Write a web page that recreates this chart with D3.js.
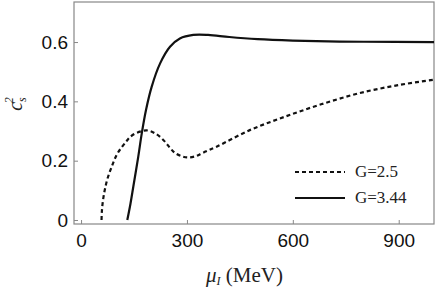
<!DOCTYPE html>
<html>
<head>
<meta charset="utf-8">
<script src="https://cdn.jsdelivr.net/npm/d3@7"></script>
<style>
  body { margin: 0; background: #fff; }
  .tick text { font-family: "Liberation Sans", Arial, sans-serif; font-size: 19px; fill: #111; }
  .legend text { font-family: "Liberation Serif", "Times New Roman", serif; font-size: 17px; fill: #222; }
</style>
</head>
<body>
<script>
//curve data (mu_I in MeV, c_s^2)
var muDashed = [58, 59, 62, 67, 75, 87, 101, 115, 129, 139, 158, 186, 210, 233, 252, 266, 285, 304, 325, 346, 384, 478, 577, 680, 790, 900, 1000];
var csDashed = [0, 0.03, 0.065, 0.1, 0.14, 0.18, 0.22, 0.245, 0.266, 0.28, 0.294, 0.302, 0.292, 0.27, 0.243, 0.226, 0.215, 0.211, 0.215, 0.227, 0.247, 0.303, 0.348, 0.39, 0.428, 0.455, 0.473];
var muSolid = [131, 140, 148, 162, 172, 184, 200, 224, 252, 280, 318, 360, 420, 500, 600, 700, 800, 1000];
var csSolid = [0, 0.055, 0.112, 0.213, 0.292, 0.371, 0.449, 0.528, 0.584, 0.612, 0.624, 0.624, 0.617, 0.61, 0.605, 0.602, 0.601, 0.600];
var xTicks = [0, 300, 600, 900];
var yTicks = [0, 0.2, 0.4, 0.6];
var seriesNames = ["G=2.5", "G=3.44"];

(function(){
    var width = 436, height = 290;
    var left = 74, top = 2, right = 434, bottom = 224;

    var svg = d3.select("body").append("svg")
        .attr("width", width)
        .attr("height", height);

    var x = d3.scaleLinear().domain([-20, 1000]).range([left, right]);
    var y = d3.scaleLinear().domain([-0.0135, 0.735]).range([bottom, top]);

    //axes with inner ticks
    var xAxis = d3.axisBottom(x).tickValues(xTicks).tickSize(-4).tickPadding(10).tickFormat(d3.format("d"));
    var yAxis = d3.axisLeft(y).tickValues(yTicks).tickSize(-4).tickPadding(6)
        .tickFormat(function(d){ return d === 0 ? "0" : d3.format(".1f")(d); });

    svg.append("g").attr("transform", "translate(0," + bottom + ")").call(xAxis)
        .call(function(g){ g.select(".domain").remove(); g.selectAll("line").attr("stroke", "#888"); });
    svg.append("g").attr("transform", "translate(" + left + ",0)").call(yAxis)
        .call(function(g){ g.select(".domain").remove(); g.selectAll("line").attr("stroke", "#888"); });

    //frame
    svg.append("rect")
        .attr("x", left).attr("y", top)
        .attr("width", right - left).attr("height", bottom - top)
        .attr("fill", "none").attr("stroke", "#888").attr("stroke-width", 1.2);

    var line = d3.line()
        .x(function(d){ return x(d[0]); })
        .y(function(d){ return y(d[1]); })
        .curve(d3.curveCatmullRom.alpha(0.5));

    var dashed = d3.zip(muDashed, csDashed);
    var solid = d3.zip(muSolid, csSolid);

    svg.append("path").datum(dashed)
        .attr("d", line).attr("fill", "none")
        .attr("stroke", "#111").attr("stroke-width", 2.2)
        .attr("stroke-dasharray", "4,3");

    svg.append("path").datum(solid)
        .attr("d", line).attr("fill", "none")
        .attr("stroke", "#111").attr("stroke-width", 2.2);

    //legend
    var legend = svg.append("g").attr("class", "legend");
    [0, 1].forEach(function(i){
        var ly = 172 + i * 26;
        legend.append("line")
            .attr("x1", 295).attr("x2", 345).attr("y1", ly).attr("y2", ly)
            .attr("stroke", "#111").attr("stroke-width", 2.2)
            .attr("stroke-dasharray", i === 0 ? "4,3" : null);
        legend.append("text")
            .attr("x", 355).attr("y", ly + 5)
            .text(seriesNames[i]);
    });

    //x axis title
    var xt = svg.append("text")
        .attr("x", 206).attr("y", 282)
        .style("font-family", "'Liberation Serif', 'Times New Roman', serif")
        .style("font-size", "21px").attr("fill", "#222");
    xt.append("tspan").style("font-style", "italic").text("μ");
    xt.append("tspan").style("font-style", "italic").style("font-size", "12px").attr("dy", 3).text("I");
    xt.append("tspan").attr("dy", -3).text(" (MeV)");

    //y axis title
    var yt = svg.append("text")
        .attr("transform", "translate(22,104) rotate(-90)")
        .attr("text-anchor", "middle")
        .style("font-family", "'Liberation Serif', 'Times New Roman', serif")
        .style("font-size", "20px").style("font-style", "italic").attr("fill", "#222");
    yt.append("tspan").text("c");
    yt.append("tspan").style("font-size", "12px").attr("dy", 4).text("s");
    yt.append("tspan").style("font-size", "12px").attr("dy", -13).attr("dx", -6).text("2");
})();
</script>
</body>
</html>
